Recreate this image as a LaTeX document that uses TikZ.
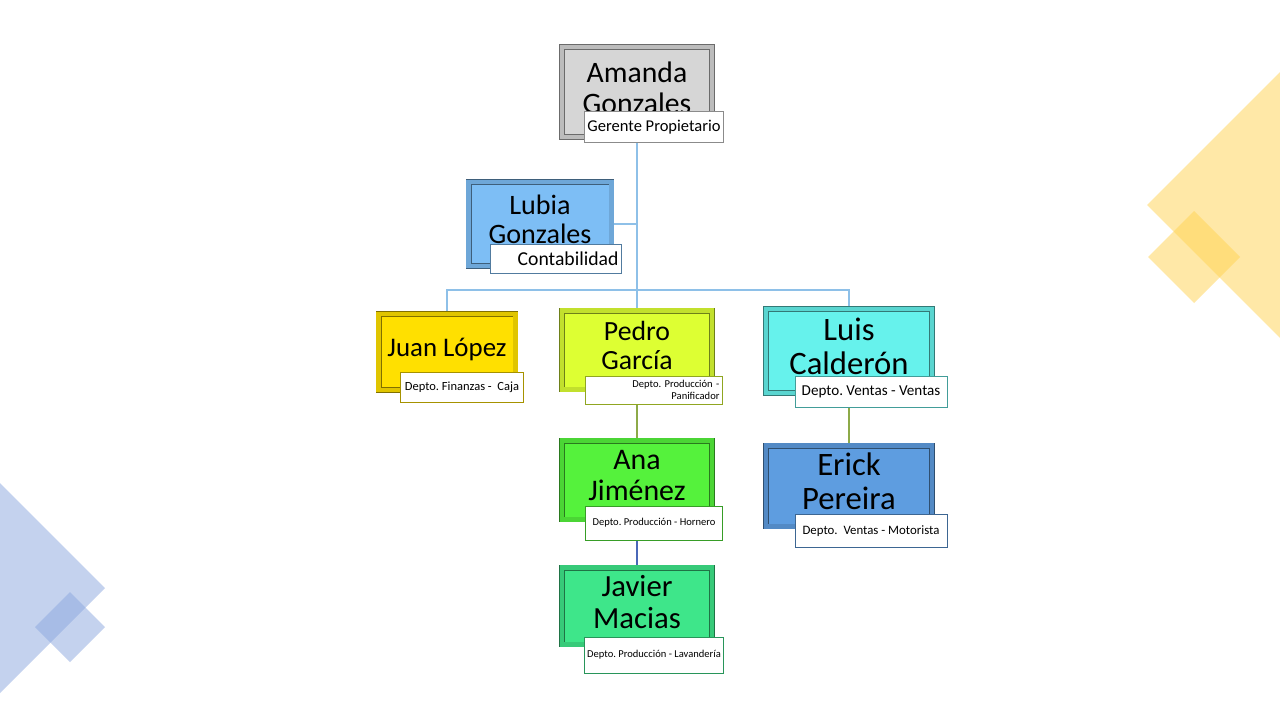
\documentclass[tikz,border=0pt]{standalone}
\usepackage{fontspec}
\setmainfont{Carlito}
\frenchspacing
\definecolor{orgGray}{HTML}{D6D6D6}
\definecolor{orgSky}{HTML}{7DBEF5}
\definecolor{orgGold}{HTML}{FFE000}
\definecolor{orgLime}{HTML}{DDFF33}
\definecolor{orgCyan}{HTML}{66F2EC}
\definecolor{orgSteel}{HTML}{5E9DE0}
\definecolor{orgGreen}{HTML}{55F23C}
\definecolor{orgMint}{HTML}{3EE68A}
\definecolor{decoYellow}{HTML}{FFD351}
\definecolor{decoBlue}{HTML}{8BA7DF}
\definecolor{linkBlue}{HTML}{8EC0E8}
\definecolor{linkOlive}{HTML}{8DAA48}
\definecolor{linkNavy}{HTML}{4A68B8}
\usetikzlibrary{backgrounds}
\newcommand{\namesize}[1]{\fontsize{#1}{1.04\dimexpr#1pt\relax}\selectfont}

\begin{document}
\begin{tikzpicture}[x=0.02cm,y=-0.02cm,
  card/.style={draw=#1!50!black,fill=#1,double=#1!88!black,double distance=2.4pt,line width=0.5pt,
    inner sep=0pt,align=center,text depth=5pt},
  tag/.style={draw=#1!65!black,fill=white,line width=0.5pt,inner sep=1.5pt},
  deco/.style={fill=#1,fill opacity=0.5,draw=none},
  link/.style={line width=0.6pt,draw=#1}]
\useasboundingbox (0,0) rectangle (1280,720);
% corner decorations
\fill[deco=decoYellow] (1147,205) -- (1280,72) -- (1280,338) -- cycle;
\fill[deco=decoYellow] (1148,257) -- (1194,211) -- (1240,257) -- (1194,303) -- cycle;
\fill[deco=decoBlue] (0,483) -- (105,588) -- (0,693) -- cycle;
\fill[deco=decoBlue] (35,627) -- (70,592) -- (105,627) -- (70,662) -- cycle;

% people
\node[card=orgGray,minimum width=3cm,minimum height=1.8cm,font=\namesize{16.9}] (amanda) at (637,92) {Amanda\\Gonzales};
\node[tag=orgGray,minimum width=2.74cm,minimum height=0.62cm,font=\fontsize{9.4}{11}\selectfont] (amandaSub) at (654,127) {Gerente Propietario};

\node[card=orgSky,minimum width=2.86cm,minimum height=1.68cm,font=\namesize{16}] (lubia) at (540,224) {Lubia\\Gonzales};
\node[tag=orgSky,minimum width=2.6cm,minimum height=0.58cm,align=right,text width=2.5cm,font=\fontsize{11.2}{12}\selectfont] (lubiaSub) at (556,259) {Contabilidad};

\node[card=orgGold,minimum width=2.74cm,minimum height=1.52cm,font=\namesize{15.3}] (juan) at (447,352) {Juan López};
\node[tag=orgGold,minimum width=2.46cm,minimum height=0.6cm,font=\fontsize{7.1}{8}\selectfont] (juanSub) at (462,387) {Depto. Finanzas -\ \ Caja};

\node[card=orgLime,minimum width=3cm,minimum height=1.58cm,font=\namesize{15.8}] (pedro) at (637,350) {Pedro\\García};
\node[tag=orgLime,minimum width=2.74cm,minimum height=0.56cm,align=right,text width=2.62cm,font=\fontsize{6}{7}\selectfont] (pedroSub) at (654,390) {Depto. Producción -\\Panificador};

\node[card=orgCyan,minimum width=3.32cm,minimum height=1.68cm,font=\namesize{18.6}] (luis) at (849,351) {Luis\\Calderón};
\node[tag=orgCyan,minimum width=3.04cm,minimum height=0.62cm,font=\fontsize{8.6}{10}\selectfont] (luisSub) at (871,392) {Depto. Ventas - Ventas};

\node[card=orgSteel,minimum width=3.32cm,minimum height=1.62cm,font=\namesize{18.6}] (erick) at (849,486) {Erick\\Pereira};
\node[tag=orgSteel,minimum width=3.04cm,minimum height=0.66cm,font=\fontsize{7.3}{8}\selectfont] (erickSub) at (871,531) {Depto.\ \ Ventas - Motorista};

\node[card=orgGreen,minimum width=3cm,minimum height=1.58cm,font=\namesize{17}] (ana) at (637,480) {Ana\\Jiménez};
\node[tag=orgGreen,minimum width=2.74cm,minimum height=0.68cm,font=\fontsize{6}{7}\selectfont] (anaSub) at (654,523) {Depto. Producción - Hornero};

\node[card=orgMint,minimum width=3cm,minimum height=1.54cm,font=\namesize{17.5}] (javier) at (637,606) {Javier\\Macias};
\node[tag=orgMint,minimum width=2.74cm,minimum height=0.72cm,font=\fontsize{6}{7}\selectfont] (javierSub) at (654,655) {Depto. Producción - Lavandería};

% connectors
\coordinate (bus) at (637,290);
\begin{scope}[on background layer]
\fill[white] (0,0) rectangle (1280,720);
\draw[link=linkBlue] (amanda.south |- amandaSub.south) -- (bus);
\draw[link=linkBlue] (lubia.east) -- (lubia.east -| bus);
\draw[link=linkBlue] (juan.north) |- (bus) -| (luis.north);
\draw[link=linkBlue] (bus) -- (pedro.north);
\draw[link=linkOlive] (pedro.south |- pedroSub.south) -- (ana.north);
\draw[link=linkOlive] (luis.south |- luisSub.south) -- (erick.north);
\draw[link=linkNavy] (ana.south |- anaSub.south) -- (javier.north);
\end{scope}
\end{tikzpicture}
\end{document}
